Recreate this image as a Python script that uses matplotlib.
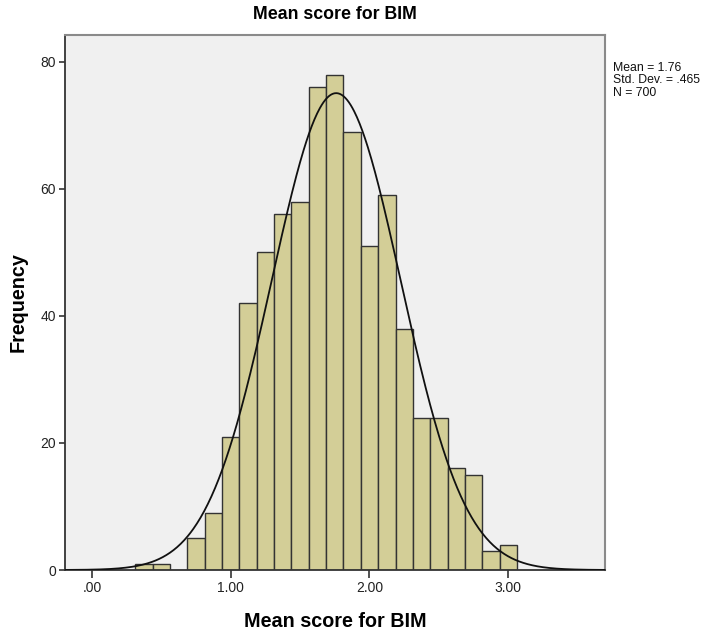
import numpy as np
import matplotlib
matplotlib.use("Agg")
import matplotlib.pyplot as plt

plt.rcParams['font.family'] = ['Liberation Sans', 'DejaVu Sans']

# Histogram data (bin centers and counts)
bin_centers = [0.375, 0.5, 0.625, 0.75, 0.875, 1.0, 1.125, 1.25, 1.375, 1.5, 1.625,
               1.75, 1.875, 2.0, 2.125, 2.25, 2.375, 2.5, 2.625, 2.75, 2.875, 3.0]
counts = [1, 1, 0, 5, 9, 21, 42, 50, 56, 58, 76, 78, 69, 51, 59, 38, 24, 24, 16, 15, 3, 4]
bin_width = 0.125
mean_val = 1.76
std_val = 0.465
n_val = 700
x_ticks = [0.0, 1.0, 2.0, 3.0]
x_tick_labels = ['.00', '1.00', '2.00', '3.00']
y_ticks = [0, 20, 40, 60, 80]

fig = plt.figure(figsize=(7.18, 6.35), dpi=100)
ax = fig.add_axes([65/718, 1-570/635, 540/718, 535.5/635])
ax.set_facecolor('#F0F0F0')

heights = np.array(counts)
mask = heights > 0
ax.bar(np.array(bin_centers)[mask], heights[mask], width=bin_width,
       color='#D3CE97', edgecolor='#333333', linewidth=1.0, zorder=2)

xs = np.linspace(-0.2, 3.7, 600)
ys = n_val * bin_width * np.exp(-0.5 * ((xs - mean_val) / std_val) ** 2) / (std_val * np.sqrt(2 * np.pi))
ax.plot(xs, ys, color='#111111', linewidth=1.3, zorder=3)

ax.set_xlim(-0.194, 3.697)
ax.set_ylim(0, 84.3)
ax.set_xticks(x_ticks)
ax.set_xticklabels(x_tick_labels)
ax.set_yticks(y_ticks)
ax.tick_params(axis='x', direction='out', length=6, width=1.2, colors='#333333',
               labelsize=10, labelcolor='#222222', pad=2)
ax.tick_params(axis='y', direction='out', length=4.5, width=1.2, colors='#333333',
               labelsize=10, labelcolor='#222222', pad=2)

for side in ['left', 'bottom']:
    ax.spines[side].set_color('#333333')
    ax.spines[side].set_linewidth(1.3)
for side in ['top', 'right']:
    ax.spines[side].set_color('#8a8a8a')
    ax.spines[side].set_linewidth(1.5)

ax.set_title('Mean score for BIM', fontsize=12.8, fontweight='bold', pad=11)
ax.set_xlabel('Mean score for BIM', fontsize=14.2, fontweight='bold', labelpad=12)
ax.set_ylabel('Frequency', fontsize=14.2, fontweight='bold', labelpad=9)

fig.text(613/718, 1-62/635, 'Mean = 1.76\nStd. Dev. = .465\nN = 700',
         fontsize=8.8, va='top', ha='left', linespacing=1.05, color='#111111')

fig.savefig('out.png', dpi=100)
